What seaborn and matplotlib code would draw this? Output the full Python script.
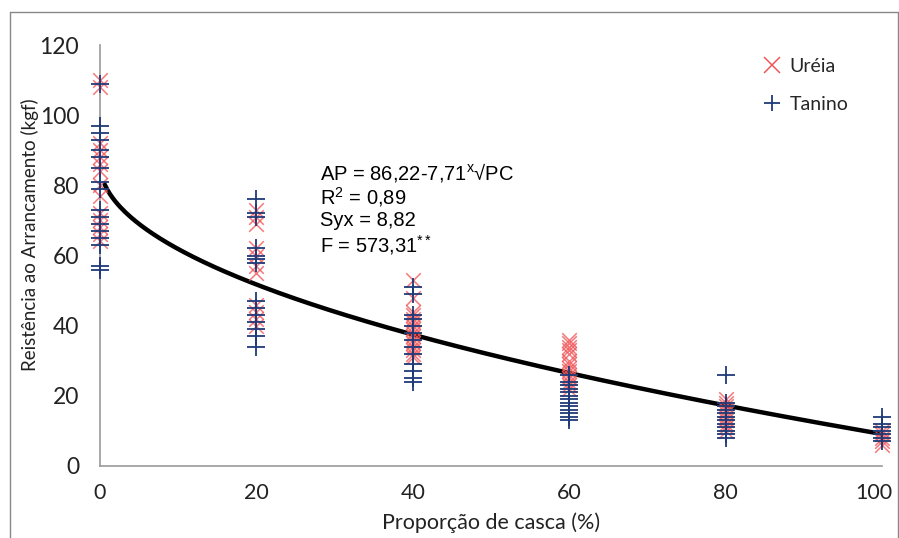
import numpy as np
import pandas as pd
import matplotlib
matplotlib.use("Agg")
import matplotlib.pyplot as plt
import matplotlib.transforms as mtrans
import seaborn as sns
from matplotlib.lines import Line2D

# ---- data ----
ureia_x = [0]*14 + [20]*11 + [40]*16 + [60]*14 + [80]*10 + [100]*5
ureia_y = [110, 108, 92, 90, 88, 86, 84, 80, 77, 72, 70, 68, 66, 64,
           73, 71, 69, 62, 60, 57, 55, 46, 44, 42, 40,
           53, 48, 44, 43, 42, 41, 40, 39, 38, 37, 36, 35, 34, 33, 32, 31,
           36, 35, 34, 33, 32, 30, 29, 28, 27, 26, 25, 24, 23, 22,
           19, 18, 17, 16, 15, 14, 13, 12, 11, 10,
           10, 9, 8, 7, 6]
tanino_x = [0]*17 + [20]*14 + [40]*13 + [60]*13 + [80]*12 + [100]*7
tanino_y = [109, 97, 95, 93, 90, 88, 85, 81, 79, 73, 71, 69, 67, 65, 63, 57, 56,
            76, 72, 71, 62, 60, 59, 58, 47, 45, 43, 41, 39, 37, 34,
            51, 49, 43, 42, 40, 38, 36, 34, 32, 29, 27, 25, 24,
            26, 24, 23, 22, 21, 20, 19, 18, 17, 16, 15, 14, 13,
            26, 18, 17, 16, 15, 14, 13, 12, 11, 10, 9, 8,
            14, 12, 11, 10, 9, 8, 7]
series_names = ["Uréia", "Tanino"]
xticks = [0, 20, 40, 60, 80, 100]
yticks = [0, 20, 40, 60, 80, 100, 120]
# fitted model shown in the chart: AP = a - b*sqrt(PC)
coef_a = 86.22
coef_b = 7.71
eq_lines = ["AP = 86,22-7,71$^{\\mathregular{x}}$√PC", "R$^{\\mathregular{2}}$ = 0,89",
            "Syx = 8,82", "F = 573,31$^{\\mathregular{**}}$"]

df = pd.DataFrame({
    "x": ureia_x + tanino_x,
    "y": ureia_y + tanino_y,
    "serie": [series_names[0]]*len(ureia_x) + [series_names[1]]*len(tanino_x),
})
pc = np.linspace(0.6, 100, 300)
curve = pd.DataFrame({"x": pc, "y": coef_a - coef_b*np.sqrt(pc)})

sns.set_theme(style="white")
plt.rcParams['font.family'] = ['Lato', 'DejaVu Sans']

fig = plt.figure(figsize=(8.99, 5.38), dpi=100)
W, H = 899, 538
ax = fig.add_axes([100/W, 1-466/H, (882-100)/W, (466-45)/H])

red = "#F0575A"
navy = "#1F3A78"

sns.lineplot(data=curve, x="x", y="y", ax=ax, color="black", lw=3.2, zorder=2)
d_u = df[df.serie == series_names[0]]
d_t = df[df.serie == series_names[1]]
ax.scatter(d_u.x, d_u.y, marker="x", s=110, color=red, alpha=0.8, lw=1.1, zorder=3, clip_on=False)
ax.scatter(d_t.x, d_t.y, marker="+", s=150, color=navy, lw=1.3, zorder=4, clip_on=False)

ax.set_xlim(0, 100)
ax.set_ylim(0, 120)
ax.set_xticks(xticks)
ax.set_yticks(yticks)
ax.tick_params(axis="both", direction="out", length=6, width=1, color="#888888",
               labelsize=16.5, labelcolor="#222222")
ax.tick_params(axis="y", pad=9)
ax.tick_params(axis="x", pad=12, length=0, labelsize=15.5)
for s in ["top", "right"]:
    ax.spines[s].set_visible(False)
for s in ["left", "bottom"]:
    ax.spines[s].set_color("#999999")
    ax.spines[s].set_linewidth(1.2)
ax.set_xlabel("Proporção de casca (%)", fontsize=15.5, color="#222222")
ax.xaxis.set_label_coords(0.5, -(523-466)/421, transform=ax.transAxes)
ax.xaxis.label.set_va("center")
ax.set_ylabel("Reistência ao Arrancamento (kgf)", fontsize=13.5, color="#222222")
ax.yaxis.set_label_coords(-(100-30)/782, (466-235)/421, transform=ax.transAxes)
ax.yaxis.label.set_va("center")

# keep the last x tick label inside the chart frame
last = ax.get_xticklabels()[-1]
last.set_transform(last.get_transform() + mtrans.ScaledTranslation(-8/100, 0, fig.dpi_scale_trans))

# equation annotation
for i, t in enumerate(eq_lines):
    ax.text(320/W, 1-173/H - i*24/H, t, transform=fig.transFigure, fontsize=14.5,
            family="Liberation Sans", va="center", ha="left", color="black")

# legend
handles = [Line2D([], [], marker="x", ls="none", color=red, ms=11, mew=1.1),
           Line2D([], [], marker="+", ls="none", color=navy, ms=12, mew=1.3)]
leg = fig.legend(handles, series_names, loc="upper left", bbox_to_anchor=(745/W, 1-40/H),
                 frameon=False, fontsize=14, handlelength=1.0, handletextpad=0.4,
                 labelspacing=1.1)

# outer chart frame
fig.add_artist(Line2D([10/W, 10/W], [0, 1-12/H], transform=fig.transFigure, color="#888888", lw=1))
fig.add_artist(Line2D([10/W, 898/W], [1-12/H, 1-12/H], transform=fig.transFigure, color="#888888", lw=1))
fig.add_artist(Line2D([898/W, 898/W], [0, 1-12/H], transform=fig.transFigure, color="#888888", lw=1))

fig.savefig("out.png", dpi=100)
